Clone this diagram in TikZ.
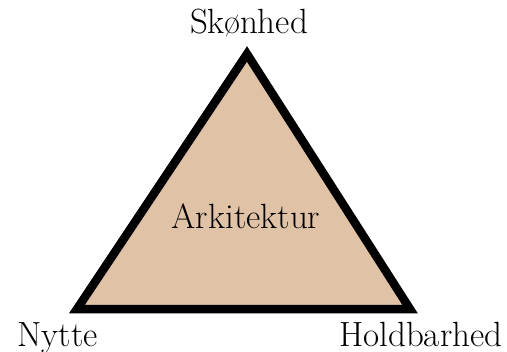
\documentclass[tikz,border=0pt]{standalone}
\usepackage{tikz}
\definecolor{tan}{RGB}{224,194,167}
\tikzset{every path/.style={semithick}}
\tikzset{side/.style={line width=4.25pt, line join=miter, fill=tan}}
\tikzset{label/.style={inner sep=0pt, font=\fontsize{17.5}{20}\selectfont}}

\begin{document}
\begin{tikzpicture}[x=0.5pt, y=-0.5pt]
    \useasboundingbox (0,0) rectangle (507,352);

    \coordinate (top) at (247,54);
    \coordinate (left) at (77,309);
    \coordinate (right) at (410,309);
    \draw[side] (top) -- (left) -- (right) -- cycle;

    \node[label, anchor=base] (sk) at (249,34) {Skønhed};
    \node[label, anchor=base west] (ny) at (17,346) {Nytte};
    \node[label, anchor=base east] (ho) at (503,346) {Holdbarhed};
    \node[label, anchor=base] (ark) at (246,228) {Arkitektur};
  \end{tikzpicture}
\end{document}
